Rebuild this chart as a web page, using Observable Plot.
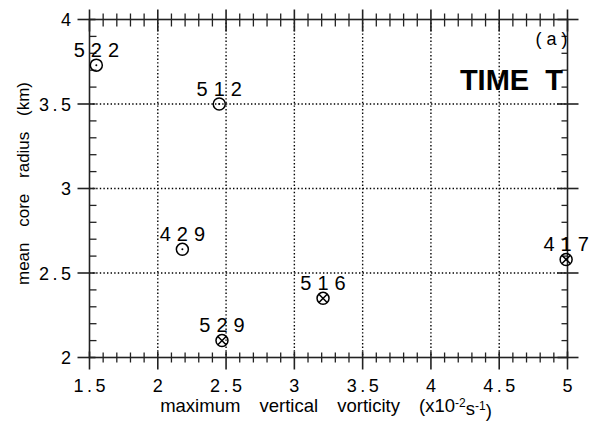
<!DOCTYPE html>
<html><head><meta charset="utf-8">
<script src="https://cdn.jsdelivr.net/npm/d3@7"></script>
<script src="https://cdn.jsdelivr.net/npm/@observablehq/plot@0.6"></script>
<style>
html,body{margin:0;padding:0;background:#fff;}
</style>
</head><body><div id="chart"></div>
<script>
// ---- data ----
const caseIds = ["522", "512", "429", "529", "516", "417"];
const maxVorticity = [1.55, 2.45, 2.18, 2.47, 3.21, 4.99];
const meanCoreRadius = [3.73, 3.50, 2.64, 2.10, 2.35, 2.58];
const markerKind = ["open", "open", "open", "cross", "cross", "cross"];
const xMajorTicks = [1.5, 2, 2.5, 3, 3.5, 4, 4.5, 5];
const xTickLabels = ["1.5", "2", "2.5", "3", "3.5", "4", "4.5", "5"];
const yMajorTicks = [2, 2.5, 3, 3.5, 4];
const yTickLabels = ["2", "2.5", "3", "3.5", "4"];
const xMinorTicks = d3.range(15, 51).map(d => d / 10).filter(v => !xMajorTicks.some(m => Math.abs(m - v) < 1e-9));
const yMinorTicks = d3.range(20, 41).map(d => d / 10).filter(v => !yMajorTicks.some(m => Math.abs(m - v) < 1e-9));
const xTitleMain = "maximum vertical vorticity (x10";
const xTitleParts = [["-2", true], ["s", false], ["-1", true], [")", false]];
const yTitle = "mean core radius (km)";
const panelLabel = "(a)";
const timeLabel = "TIME  T";

const points = caseIds.map((id, i) => ({id, x: maxVorticity[i], y: meanCoreRadius[i], kind: markerKind[i]}));
const openPts = points.filter(d => d.kind === "open");
const crossPts = points.filter(d => d.kind === "cross");

// custom line-segment symbols for tick marks
function seg(x1, y1, x2, y2) { return {draw(ctx) { ctx.moveTo(x1, y1); ctx.lineTo(x2, y2); }}; }
const xSym = {draw(ctx) { const a = 4.1; ctx.moveTo(-a, -a); ctx.lineTo(a, a); ctx.moveTo(-a, a); ctx.lineTo(a, -a); }};
const centerDot = {draw(ctx) { ctx.moveTo(1, 0); ctx.arc(0, 0, 1, 0, 2 * Math.PI); }};

const axisColor = "#222";
const tickStyle = {fill: "none", stroke: axisColor, strokeWidth: 1.3};
const tag = name => ({ariaLabel: () => name});

const chart = Plot.plot({
  width: 597,
  height: 423,
  marginLeft: 89,
  marginRight: 30,
  marginTop: 19,
  marginBottom: 66,
  x: {domain: [1.5, 5], axis: null},
  y: {domain: [2, 4], axis: null},
  style: {fontFamily: "'Liberation Sans', Arial, Helvetica, sans-serif", color: "#000", background: "#fff", overflow: "visible", whiteSpace: "pre"},
  marks: [
    Plot.ruleX(xMajorTicks.slice(1, -1), {stroke: "#000", strokeWidth: 1.4, strokeDasharray: "1.4,2.2"}),
    Plot.ruleY(yMajorTicks.slice(1, -1), {stroke: "#000", strokeWidth: 1.4, strokeDasharray: "1.4,2.2"}),
    Plot.frame({stroke: axisColor, strokeWidth: 1.6}),
    // bottom ticks
    Plot.dot(xMinorTicks, {x: d => d, frameAnchor: "bottom", symbol: seg(0, -5, 0, 5), ...tickStyle}),
    Plot.dot(xMajorTicks, {x: d => d, frameAnchor: "bottom", symbol: seg(0, -6, 0, 12), ...tickStyle, strokeWidth: 1.6}),
    // top ticks
    Plot.dot(xMinorTicks, {x: d => d, frameAnchor: "top", symbol: seg(0, -6, 0, 7), ...tickStyle}),
    Plot.dot(xMajorTicks, {x: d => d, frameAnchor: "top", symbol: seg(0, -10, 0, 12), ...tickStyle, strokeWidth: 1.6}),
    // left ticks
    Plot.dot(yMinorTicks, {y: d => d, frameAnchor: "left", symbol: seg(0, 0, 7, 0), ...tickStyle}),
    Plot.dot(yMajorTicks, {y: d => d, frameAnchor: "left", symbol: seg(-12, 0, 6, 0), ...tickStyle, strokeWidth: 1.6}),
    // right ticks
    Plot.dot(yMinorTicks, {y: d => d, frameAnchor: "right", symbol: seg(-6, 0, 0, 0), ...tickStyle}),
    Plot.dot(yMajorTicks, {y: d => d, frameAnchor: "right", symbol: seg(-10, 0, 11, 0), ...tickStyle, strokeWidth: 1.6}),
    // tick labels
    Plot.text(xMajorTicks, {x: d => d, frameAnchor: "bottom", text: (d, i) => xTickLabels[i], textAnchor: "middle", lineAnchor: "bottom", dy: 34, dx: 1.75, fontSize: 18, ...tag("x-tick-label")}),
    Plot.text(yMajorTicks, {y: d => d, frameAnchor: "left", text: (d, i) => yTickLabels[i], textAnchor: "end", lineAnchor: "middle", dx: -15, dy: 1, fontSize: 18, ...tag("y-tick-label")}),
    // markers
    Plot.dot(points, {x: "x", y: "y", r: 6, fill: "none", stroke: "#000", strokeWidth: 1.5}),
    Plot.dot(openPts, {x: "x", y: "y", symbol: centerDot, fill: "#000", stroke: "none"}),
    Plot.dot(crossPts, {x: "x", y: "y", symbol: xSym, fill: "none", stroke: "#000", strokeWidth: 1.5}),
    // point labels
    Plot.text(points, {x: "x", y: "y", text: "id", textAnchor: "middle", lineAnchor: "bottom", dy: -8.5, dx: 3, fontSize: 20, ...tag("point-label")}),
    // annotations
    Plot.text([panelLabel], {frameAnchor: "top-right", textAnchor: "end", lineAnchor: "bottom", dx: 5, dy: 25, fontSize: 18, ...tag("panel-label")}),
    Plot.text([timeLabel], {frameAnchor: "top-right", textAnchor: "end", lineAnchor: "bottom", dx: -4.5, dy: 70, fontSize: 29, fontWeight: "bold", ...tag("time-label")}),
    // axis titles
    Plot.text([xTitleMain], {frameAnchor: "bottom", textAnchor: "middle", lineAnchor: "bottom", dy: 54.5, dx: -2.5, fontSize: 18.5, ...tag("x-title")}),
    Plot.text([yTitle], {frameAnchor: "left", textAnchor: "middle", rotate: -90, lineAnchor: "bottom", dx: -61, dy: -5, fontSize: 17, ...tag("y-title")})
  ]
});

const s = d3.select(chart);
s.selectAll('text[aria-label="point-label"]').style("letter-spacing", "6px");
s.selectAll('text[aria-label="x-tick-label"]').style("letter-spacing", "3.5px");
s.selectAll('text[aria-label="y-tick-label"]').style("letter-spacing", "3.5px");
s.selectAll('text[aria-label="panel-label"]').style("letter-spacing", "5px");
s.selectAll('text[aria-label="y-title"]').style("word-spacing", "11px");
s.selectAll('text[aria-label="x-title"]').each(function() {
  const t = d3.select(this);
  const main = t.text();
  t.text(null).style("word-spacing", "14px");
  t.append("tspan").text(main);
  for (const [str, sup] of xTitleParts) {
    t.append("tspan").attr("dy", sup ? "-0.42em" : "0.42em").style("font-size", sup ? "12px" : null).text(str);
  }
});

document.getElementById("chart").appendChild(chart);
</script>
</body></html>
